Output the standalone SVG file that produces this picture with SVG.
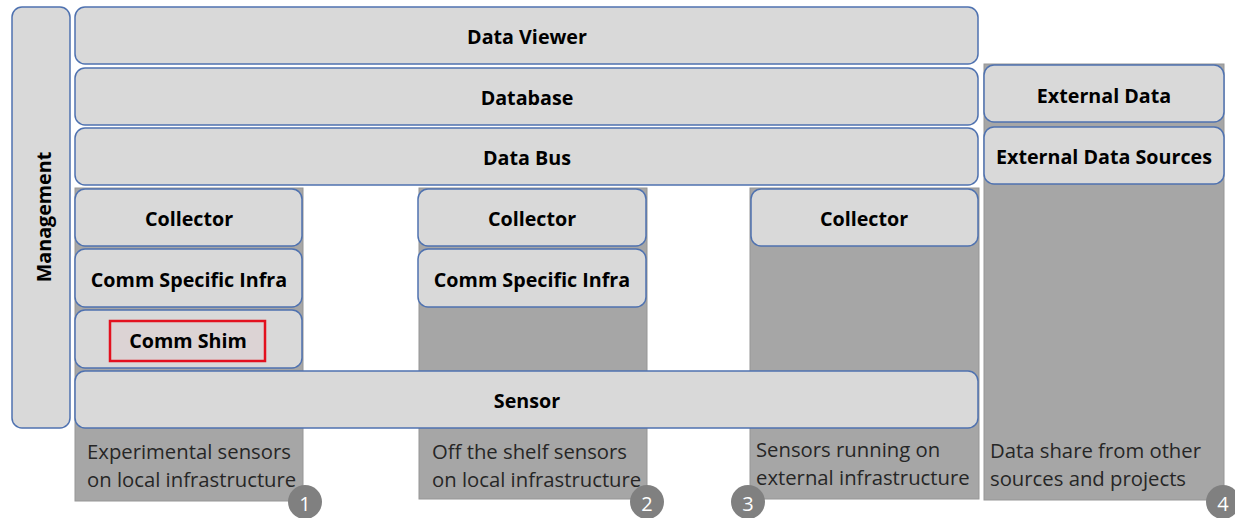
<svg xmlns="http://www.w3.org/2000/svg" width="1235" height="518" viewBox="0 0 1235 518">
  <style>
    .col { fill: #a6a6a6; stroke: #969696; stroke-width: 1; }
    .box { fill: #d9d9d9; stroke: #4f72b0; stroke-width: 1.5; }
    .lbl { font-family: "Open Sans", "Liberation Sans", Arial, sans-serif; font-weight: bold; font-size: 19.7px; fill: #000; text-anchor: middle; dominant-baseline: central; }
    .note { font-family: "Open Sans", "Liberation Sans", Arial, sans-serif; font-size: 20.3px; fill: #262626; }
    .badge { fill: #808080; }
    .num { font-family: "Open Sans", "Liberation Sans", Arial, sans-serif; font-size: 20px; fill: #fff; text-anchor: middle; dominant-baseline: central; }
    .shim { fill: #dcd3d4; stroke: #e3101e; stroke-width: 2.5; }
  </style>

  <!-- background columns for each deployment scenario -->
  <g id="columns">
    <rect class="col" x="75" y="188" width="228" height="313"/>
    <rect class="col" x="419" y="188" width="228" height="311"/>
    <rect class="col" x="750" y="188" width="229" height="311"/>
    <rect class="col" x="984" y="64" width="240" height="436"/>
  </g>

  <g id="management">
    <rect class="box" x="12" y="7" width="58" height="421" rx="10"/>
    <text class="lbl" transform="translate(43 217) rotate(-90)">Management</text>
  </g>

  <g id="data-viewer">
    <rect class="box" x="75" y="7" width="903" height="57" rx="10"/>
    <text class="lbl" x="527" y="36">Data Viewer</text>
  </g>
  <g id="database">
    <rect class="box" x="75" y="68" width="903" height="57" rx="10"/>
    <text class="lbl" x="527" y="97">Database</text>
  </g>
  <g id="data-bus">
    <rect class="box" x="75" y="128" width="903" height="57" rx="10"/>
    <text class="lbl" x="527" y="157">Data Bus</text>
  </g>

  <g id="external-data">
    <rect class="box" x="984" y="65" width="240" height="57" rx="10"/>
    <text class="lbl" x="1104" y="95">External Data</text>
  </g>
  <g id="external-data-sources">
    <rect class="box" x="984" y="127" width="240" height="57" rx="10"/>
    <text class="lbl" x="1104" y="156">External Data Sources</text>
  </g>

  <g id="collector-1">
    <rect class="box" x="75" y="189" width="227" height="57" rx="10"/>
    <text class="lbl" x="189" y="218">Collector</text>
  </g>
  <g id="comm-infra-1">
    <rect class="box" x="75" y="249" width="227" height="58" rx="10"/>
    <text class="lbl" x="189" y="279">Comm Specific Infra</text>
  </g>
  <g id="comm-shim">
    <rect class="box" x="75" y="310" width="227" height="58" rx="10"/>
    <rect class="shim" x="110" y="321" width="155" height="40"/>
    <text class="lbl" x="188" y="340">Comm Shim</text>
  </g>

  <g id="collector-2">
    <rect class="box" x="418" y="189" width="228" height="57" rx="10"/>
    <text class="lbl" x="532" y="218">Collector</text>
  </g>
  <g id="comm-infra-2">
    <rect class="box" x="418" y="249" width="228" height="58" rx="10"/>
    <text class="lbl" x="532" y="279">Comm Specific Infra</text>
  </g>

  <g id="collector-3">
    <rect class="box" x="751" y="189" width="227" height="57" rx="10"/>
    <text class="lbl" x="864" y="218">Collector</text>
  </g>

  <g id="sensor">
    <rect class="box" x="75" y="371" width="903" height="57" rx="10"/>
    <text class="lbl" x="527" y="400">Sensor</text>
  </g>

  <!-- scenario descriptions -->
  <g id="notes">
    <text class="note" x="87" y="459">Experimental sensors</text>
    <text class="note" x="87" y="487">on local infrastructure</text>
    <text class="note" x="432" y="459">Off the shelf sensors</text>
    <text class="note" x="432" y="487">on local infrastructure</text>
    <text class="note" x="756" y="457">Sensors running on</text>
    <text class="note" x="756" y="485">external infrastructure</text>
    <text class="note" x="990" y="458">Data share from other</text>
    <text class="note" x="990" y="486">sources and projects</text>
  </g>

  <!-- numbered scenario markers -->
  <g id="badges">
    <circle class="badge" cx="305" cy="502" r="17"/>
    <text class="num" x="305" y="503">1</text>
    <circle class="badge" cx="647" cy="502" r="17"/>
    <text class="num" x="647" y="503">2</text>
    <circle class="badge" cx="748" cy="502" r="17"/>
    <text class="num" x="748" y="503">3</text>
    <circle class="badge" cx="1223" cy="502" r="17"/>
    <text class="num" x="1223" y="503">4</text>
  </g>

  <g id="connectors"/>
</svg>
